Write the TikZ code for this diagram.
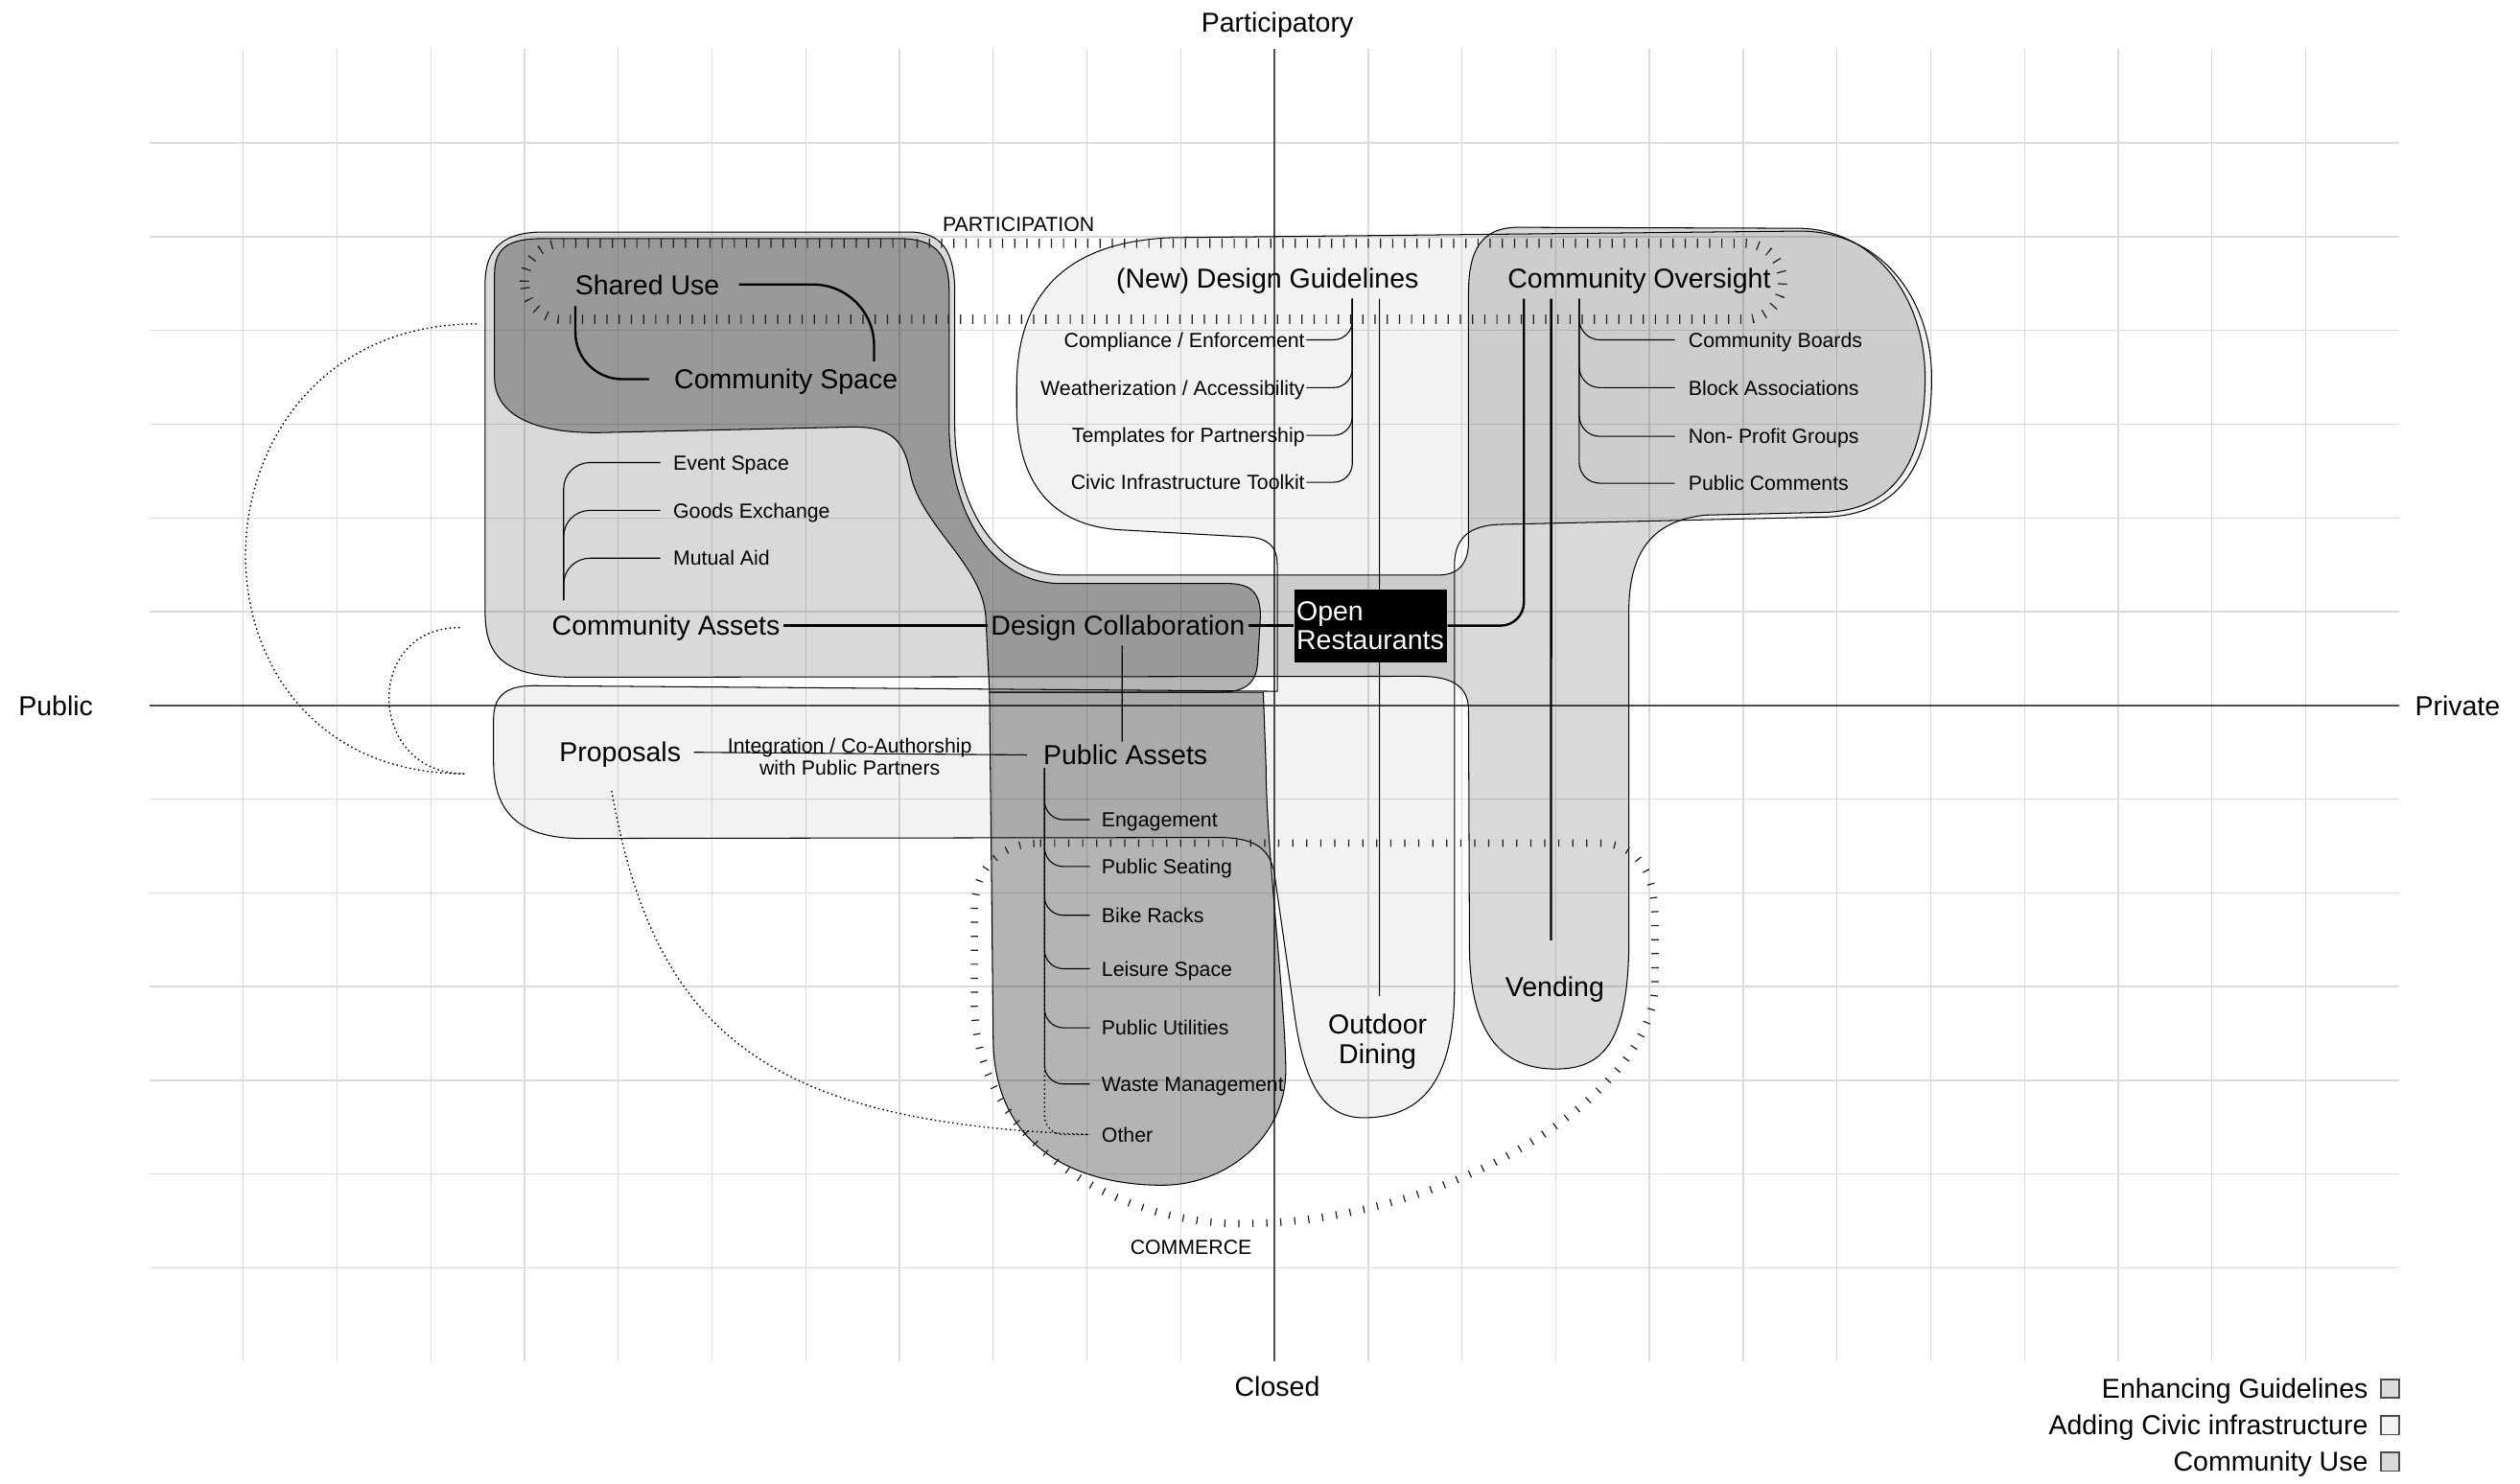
\documentclass[tikz,border=0pt]{standalone}
\usepackage{fontspec}
\setmainfont{Liberation Sans}
\usetikzlibrary{positioning}
\definecolor{useGrey}{HTML}{D9D9D9}
\definecolor{civicGrey}{HTML}{F2F2F2}
\definecolor{darkGrey}{HTML}{B4B4B4}
\definecolor{enhGrey}{HTML}{DBDBDB}
\definecolor{gridGrey}{HTML}{DCDCDC}
\definecolor{axisGrey}{HTML}{4D4D4D}
\definecolor{tickInk}{HTML}{1E1E1E}
\tikzset{
  gridline/.style={draw=gridGrey, line width=0.4pt},
  axisline/.style={draw=axisGrey, line width=0.5pt},
  blob/.style={draw=black, line width=0.3pt, fill=#1},
  bigtext/.style={font=\fontsize{8.3}{8.8}\selectfont, inner sep=0.3mm},
  bigword/.style={bigtext, text height=0.21cm, text depth=0pt},
  smalltext/.style={font=\fontsize{6.2}{6.8}\selectfont, inner sep=0.3mm},
  smallword/.style={smalltext, text height=0.157cm, text depth=0pt},
  mainlink/.style={draw=black, line width=0.7pt},
  midlink/.style={draw=black, line width=0.4pt},
  sublink/.style={draw=black, line width=0.32pt},
  dotlink/.style={draw=black, line width=0.4pt, dash pattern=on 0.45pt off 0.9pt},
  tickloop/.style={draw=tickInk, line width=#1, dash pattern=on 0.35pt off 3.35pt},
  legbox/.style={draw=axisGrey, line width=0.5pt, minimum size=0.2cm, inner sep=0pt},
}
\begin{document}
\begin{tikzpicture}
\useasboundingbox (-13.595,-8.298) rectangle (13.286,7.526);
\fill[white] (-13.595,-8.298) rectangle (13.286,7.526);

% grid and axes
\foreach \x in {-11,...,11} {
  \draw[gridline] (\x,-7) -- (\x,7);
}
\foreach \y in {-6,...,6} {
  \draw[gridline] (-12,\y) -- (12,\y);
}
\draw[axisline] (-12,0) -- (12,0);
\draw[axisline] (0,-7) -- (0,7);

% areas
\begin{scope}[blend mode=multiply]
% civic infrastructure
\path[blob=civicGrey] (-8.33,-0.6) -- (-8.33,-0.15) .. controls (-8.33,0.1) and (-8.2,0.21) .. (-7.9,0.21)
  -- (0.03,0.15) -- (0.03,1.5) .. controls (0.03,1.72) and (-0.1,1.80) .. (-0.35,1.80)
  -- (-1.6,1.87) .. controls (-2.4,1.9) and (-2.75,2.4) .. (-2.75,3.2)
  -- (-2.75,3.4) .. controls (-2.75,4.5) and (-2.1,4.95) .. (-1.1,4.99)
  -- (5.6,5.06) .. controls (6.5,5.06) and (7.01,4.3) .. (7.01,3.5)
  .. controls (7.01,2.6) and (6.7,2.05) .. (5.9,2.01)
  -- (2.4,1.93) .. controls (2.1,1.92) and (1.92,1.8) .. (1.92,1.5)
  -- (1.92,-3.0) .. controls (1.92,-4.1) and (1.5,-4.4) .. (0.95,-4.4)
  .. controls (0.5,-4.4) and (0.3,-4.0) .. (0.2,-3.2)
  -- (0.0,-1.8) .. controls (-0.05,-1.5) and (-0.25,-1.41) .. (-0.6,-1.41)
  -- (-7.4,-1.42) .. controls (-8.1,-1.42) and (-8.33,-1.1) .. (-8.33,-0.6) -- cycle;
% community use
\path[blob=useGrey] (-8.42,1.0) -- (-8.42,4.5) .. controls (-8.42,4.9) and (-8.2,5.05) .. (-7.8,5.05)
  -- (-3.9,5.05) .. controls (-3.55,5.05) and (-3.41,4.85) .. (-3.41,4.4)
  -- (-3.41,2.97) .. controls (-3.41,2.2) and (-3.0,1.39) .. (-2.25,1.39)
  -- (1.75,1.39) .. controls (1.95,1.39) and (2.07,1.5) .. (2.07,1.75)
  -- (2.07,4.4) .. controls (2.07,4.85) and (2.2,5.1) .. (2.6,5.1)
  -- (5.6,5.09) .. controls (6.45,5.07) and (6.94,4.3) .. (6.94,3.5)
  .. controls (6.94,2.65) and (6.65,2.1) .. (5.9,2.06)
  -- (4.6,2.03) .. controls (4.0,1.97) and (3.78,1.6) .. (3.78,1.0)
  -- (3.78,-2.6) .. controls (3.76,-3.6) and (3.5,-3.88) .. (3.0,-3.88)
  .. controls (2.5,-3.88) and (2.09,-3.6) .. (2.08,-2.6)
  -- (2.07,-0.05) .. controls (2.07,0.2) and (1.9,0.31) .. (1.55,0.31)
  -- (-7.5,0.30) .. controls (-8.2,0.31) and (-8.42,0.5) .. (-8.42,1.0) -- cycle;
% shared use and design collaboration
\path[blob=darkGrey] (-8.32,3.5) -- (-8.32,4.6) .. controls (-8.32,4.9) and (-8.15,4.98) .. (-7.8,4.98)
  -- (-4.0,4.98) .. controls (-3.6,4.98) and (-3.47,4.8) .. (-3.47,4.4)
  -- (-3.47,2.97) .. controls (-3.47,2.2) and (-3.1,1.32) .. (-2.3,1.30)
  -- (-0.5,1.30) .. controls (-0.25,1.30) and (-0.15,1.2) .. (-0.15,0.95)
  -- (-0.18,0.45) .. controls (-0.2,0.2) and (-0.35,0.14) .. (-0.6,0.14)
  -- (-3.04,0.14) -- (-3.08,0.95) .. controls (-3.12,1.5) and (-3.75,1.9) .. (-3.88,2.45)
  .. controls (-3.95,2.85) and (-4.1,2.97) .. (-4.5,2.97)
  -- (-7.2,2.91) .. controls (-7.9,2.9) and (-8.32,3.1) .. (-8.32,3.5) -- cycle;
% public assets column
\path[blob=darkGrey] (-3.04,0.14) -- (-3.0,-3.6) .. controls (-2.97,-4.8) and (-2.0,-5.12) .. (-1.2,-5.12)
  .. controls (-0.5,-5.12) and (0.12,-4.6) .. (0.12,-3.9)
  .. controls (0.12,-3.2) and (-0.09,-1.5) .. (-0.09,-0.66) -- (-0.12,0.14) -- cycle;
\end{scope}

% participation and commerce
\draw[tickloop=0.1cm, rounded corners=0.4cm] (-8.0,4.12) rectangle (5.42,4.93);
\draw[tickloop=0.08cm, dash pattern=on 0.35pt off 3.9pt] (-2.5,-1.47) -- (3.5,-1.47)
  .. controls (3.9,-1.5) and (4.06,-1.8) .. (4.06,-2.3) -- (4.06,-3.0)
  .. controls (4.0,-4.2) and (1.8,-5.55) .. (-0.4,-5.53)
  .. controls (-1.9,-5.5) and (-3.2,-4.5) .. (-3.2,-3.2) -- (-3.2,-2.2)
  .. controls (-3.2,-1.7) and (-2.9,-1.47) .. (-2.5,-1.47) -- cycle;
\node[smallword] (particip) at (-2.73,5.13) {PARTICIPATION};
\node[smallword] (commerce) at (-0.89,-5.78) {COMMERCE};

% axis labels
\node[bigword] (participatory) at (0.03,7.29) {Participatory};
\node[bigword] (closed) at (0.03,-7.27) {Closed};
\node[bigword] (public) at (-13.0,0) {Public};
\node[bigword] (private) at (12.62,0) {Private};

% labels
\node[bigword] (shared) at (-6.69,4.49) {Shared Use};
\node[bigword] (space) at (-5.21,3.48) {Community Space};
\node[smallword, anchor=west] (event) at (-6.45,2.59) {Event Space};
\node[smallword, anchor=west] (goods) at (-6.45,2.08) {Goods Exchange};
\node[smallword, anchor=west] (mutual) at (-6.45,1.57) {Mutual Aid};
\node[bigword] (assets) at (-6.49,0.85) {Community Assets};
\node[bigword] (collab) at (-1.67,0.85) {Design Collaboration};
\node[bigword] (guide) at (-0.075,4.56) {(New) Design Guidelines};
\node[bigword] (oversight) at (3.89,4.56) {Community Oversight};
\node[smallword, anchor=east] (comply) at (0.36,3.90) {Compliance / Enforcement};
\node[smallword, anchor=east] (weather) at (0.36,3.39) {Weatherization / Accessibility};
\node[smallword, anchor=east] (templ) at (0.36,2.88) {Templates for Partnership};
\node[smallword, anchor=east] (toolkit) at (0.36,2.38) {Civic Infrastructure Toolkit};
\node[smallword, anchor=west] (boards) at (4.38,3.90) {Community Boards};
\node[smallword, anchor=west] (blocks) at (4.38,3.39) {Block Associations};
\node[smallword, anchor=west] (nonprofit) at (4.38,2.87) {Non- Profit Groups};
\node[smallword, anchor=west] (comments) at (4.38,2.37) {Public Comments};
\node[bigword] (proposals) at (-6.98,-0.50) {Proposals};
\node[smalltext, align=center] (coauth) at (-4.53,-0.55) {Integration / Co-Authorship\\with Public Partners};
\node[bigword] (pubassets) at (-1.59,-0.53) {Public Assets};
\node[smallword, anchor=west] (engage) at (-1.88,-1.22) {Engagement};
\node[smallword, anchor=west] (seating) at (-1.88,-1.72) {Public Seating};
\node[smallword, anchor=west] (bikes) at (-1.88,-2.24) {Bike Racks};
\node[smallword, anchor=west] (leisure) at (-1.88,-2.81) {Leisure Space};
\node[smallword, anchor=west] (utilities) at (-1.88,-3.44) {Public Utilities};
\node[smallword, anchor=west] (waste) at (-1.88,-4.04) {Waste Management};
\node[smallword, anchor=west] (other) at (-1.88,-4.58) {Other};
\node[bigtext, align=center] (dining) at (1.10,-3.59) {Outdoor\\Dining};
\node[bigword] (vending) at (2.99,-3.00) {Vending};

% the guidelines line runs under the black box
\draw[sublink] ([xshift=1.195cm,yshift=-0.08cm]guide.south) -- ([xshift=0.02cm,yshift=0.16cm]dining.north);
\node[bigtext, fill=black, text=white, align=left, text width=1.58cm, inner xsep=0.025cm,
      inner ysep=0pt, minimum height=0.78cm] (openrest) at (1.025,0.85) {Open\\Restaurants};

% connectors
\draw[mainlink, rounded corners=0.65cm] ([xshift=0.17cm]shared.east) -| ([xshift=-0.29cm,yshift=0.05cm]space.north east);
\draw[mainlink, rounded corners=0.5cm] ([xshift=0.04cm,yshift=-0.09cm]shared.south west) |- ([xshift=-0.23cm]space.west);
\foreach \leaf in {event,goods,mutual} {
  \draw[sublink, rounded corners=0.28cm] ([xshift=0.16cm,yshift=0.13cm]assets.north west) |- ([xshift=-0.1cm]\leaf.west);
}
\draw[mainlink] (assets.east) -- (collab.west);
\draw[mainlink] (collab.east) -- (openrest.west);
\draw[mainlink, rounded corners=0.25cm] (openrest.east) -| ([xshift=0.21cm,yshift=-0.08cm]oversight.south west);
\draw[mainlink] ([xshift=0.50cm,yshift=-0.08cm]oversight.south west) -- ([xshift=-0.04cm,yshift=0.35cm]vending.north);
\foreach \leaf in {boards,blocks,nonprofit,comments} {
  \draw[sublink, rounded corners=0.22cm] ([xshift=0.80cm,yshift=-0.08cm]oversight.south west) |- ([xshift=-0.11cm]\leaf.west);
}
\foreach \leaf in {comply,weather,templ,toolkit} {
  \draw[sublink, rounded corners=0.2cm] ([xshift=0.905cm,yshift=-0.08cm]guide.south) |- ([xshift=-0.02cm]\leaf.east);
}
\draw[midlink] ([xshift=0.045cm,yshift=-0.07cm]collab.south) -- ([xshift=-0.035cm]pubassets.north);
\draw[sublink, shorten <=0.1cm, shorten >=0.14cm] (proposals.east) -- (pubassets.west);
\foreach \leaf in {engage,seating,bikes,leisure,utilities,waste} {
  \draw[sublink, rounded corners=0.2cm] ([xshift=0.05cm]pubassets.south west) |- ([xshift=-0.09cm]\leaf.west);
}
\draw[dotlink, rounded corners=0.2cm] ([xshift=0.05cm]pubassets.south west) |- ([xshift=-0.09cm]other.west);

% dotted returns
\coordinate (useTip) at (-8.51,4.07);
\coordinate (assetTip) at (-8.69,0.83);
\coordinate (propTip) at (-8.64,-0.73);
\draw[dotlink] (useTip) .. controls (-11.71,4.07) and (-11.84,-0.73) .. (propTip);
\draw[dotlink] (assetTip) .. controls (-9.73,0.83) and (-9.68,-0.73) .. (propTip);
\draw[dotlink] ([xshift=-0.09cm,yshift=-0.27cm]proposals.south) .. controls (-6.6,-3.6) and (-5.3,-4.45) .. ([xshift=-0.09cm]other.west);

% legend
\node[legbox, fill=enhGrey] (legEnh) at (11.90,-7.29) {};
\node[bigword, inner sep=0pt, left=0.12cm of legEnh] (legEnhText) {Enhancing Guidelines};
\node[legbox, fill=civicGrey] (legCivic) at (11.90,-7.68) {};
\node[bigword, inner sep=0pt, left=0.12cm of legCivic] (legCivicText) {Adding Civic infrastructure};
\node[legbox, fill=useGrey] (legUse) at (11.90,-8.07) {};
\node[bigword, inner sep=0pt, left=0.12cm of legUse] (legUseText) {Community Use};

\end{tikzpicture}
\end{document}
